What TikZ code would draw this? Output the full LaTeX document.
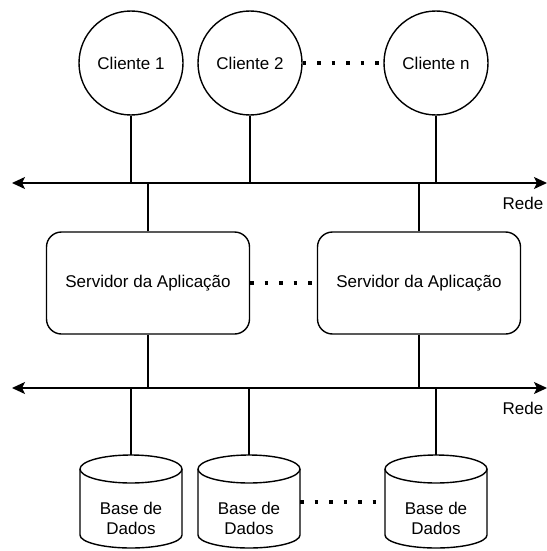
\documentclass[tikz,border=0pt]{standalone}
\usepackage{fontspec}
\setmainfont{Liberation Sans}
\usetikzlibrary{arrows.meta, positioning, shapes.geometric, calc}

\begin{document}
\begin{tikzpicture}[
  x=1pt, y=-1pt, line width=1.4pt,
  font=\fontsize{17}{20}\selectfont,
  client/.style = {draw, circle, minimum size=104pt, inner sep=0pt},
  server/.style = {draw, rectangle, rounded corners=15pt, minimum width=203pt, minimum height=102pt},
  dbase/.style  = {rectangle, align=center, inner sep=0pt},
  lantip/.tip   = {Stealth[length=13pt, width=12pt, inset=3pt]},
  etc/.style    = {line width=3.5pt, dash pattern=on 3.5pt off 11pt},
]
  \useasboundingbox (0,0) rectangle (546,551);

  % Clients
  \node[client] (cli1) at (131,63)  {Cliente 1};
  \node[client] (cli2) at (250,63)  {Cliente 2};
  \node[client] (clin) at (436,63)  {Cliente n};

  % Networks
  \coordinate (lanAw) at (12,183);
  \coordinate (lanAe) at (547,183);
  \coordinate (lanBw) at (12,388);
  \coordinate (lanBe) at (547,388);
  \node (redeA) at (523,203) {Rede};
  \node (redeB) at (523,408) {Rede};

  % Application servers
  \node[server] (srv1) at (148,283) {Servidor da Aplicação};
  \node[server] (srv2) at (419,283) {Servidor da Aplicação};

  % Databases (text, then cylinder outline round it)
  \node[dbase] (db1) at (131,518) {Base de\\Dados};
  \node[dbase] (db2) at (249,518) {Base de\\Dados};
  \node[dbase] (dbn) at (436,518) {Base de\\Dados};
  \foreach \d in {db1,db2,dbn} {
    \draw ($(\d)+(-51,-49)$) -- ($(\d)+(-51,17)$)
          arc[start angle=180, end angle=0, x radius=51, y radius=13]
          -- ($(\d)+(51,-49)$);
    \draw ($(\d)+(0,-49)$) ellipse [x radius=51, y radius=14];
    \coordinate (\d-top)   at ($(\d)+(0,-63)$);
    \coordinate (\d-left)  at ($(\d)+(-51,-16)$);
    \coordinate (\d-right) at ($(\d)+(51,-16)$);
  }

  % Bus lines
  \draw[lantip-lantip] (lanAw) -- (lanAe);
  \draw[lantip-lantip] (lanBw) -- (lanBe);

  % Drops
  \draw (cli1.south) -- (cli1.south |- lanAw);
  \draw (cli2.south) -- (cli2.south |- lanAw);
  \draw (clin.south) -- (clin.south |- lanAw);
  \draw (srv1.north) -- (srv1.north |- lanAw);
  \draw (srv2.north) -- (srv2.north |- lanAw);
  \draw (srv1.south) -- (srv1.south |- lanBw);
  \draw (srv2.south) -- (srv2.south |- lanBw);
  \draw (db1-top) -- (db1-top |- lanBw);
  \draw (db2-top) -- (db2-top |- lanBw);
  \draw (dbn-top) -- (dbn-top |- lanBw);

  % Ellipsis dots
  \draw[etc] (cli2.east) -- (clin.west);
  \draw[etc] (srv1.east) -- (srv2.west);
  \draw[etc] (db2-right) -- (dbn-left);
\end{tikzpicture}
\end{document}
